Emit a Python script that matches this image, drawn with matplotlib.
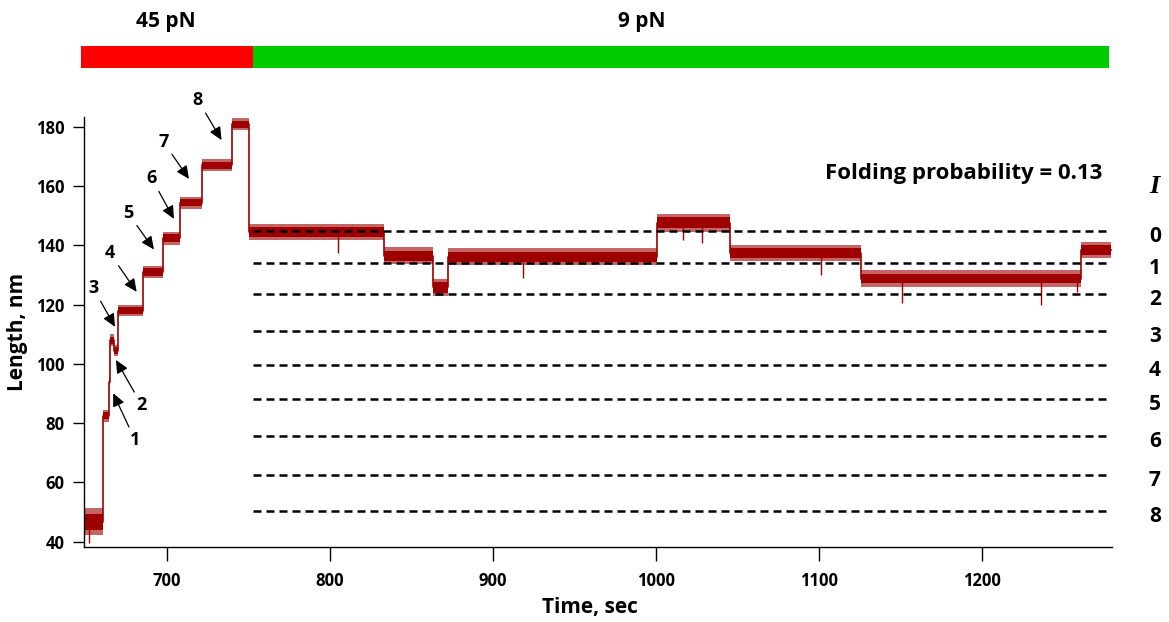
import numpy as np
import matplotlib
matplotlib.use('Agg')
import matplotlib.pyplot as plt

plt.rcParams['font.family'] = ['Open Sans', 'DejaVu Sans']
plt.rcParams['font.weight'] = 'bold'
plt.rcParams['axes.labelweight'] = 'bold'

# Step levels of the trace (start time of each dwell, level in nm, noise half width)
seg_start = [649.9, 661.1, 664.5, 665.5, 667.5, 670.3, 685.3, 697.9, 708.2, 721.5,
             740.2, 750.7, 833.3, 863.6, 872.8, 1000.6, 1045.4, 1125.8, 1260.7]
seg_end_last = 1279.1
seg_level = [46.7, 82.5, 94.0, 108.0, 104.5, 118.0, 131.0, 142.4, 154.3, 167.0,
             180.8, 144.5, 136.5, 125.8, 136.2, 147.6, 137.4, 128.8, 138.4]
seg_spread = [4.5, 2.0, 1.5, 2.0, 2.0, 2.0, 2.0, 2.2, 2.0, 2.0,
              2.0, 2.8, 2.8, 3.0, 2.8, 3.0, 2.8, 2.8, 2.8]

# Isolated spikes seen on the trace (time, extreme value)
spike_t = [652.5, 805.3, 918.8, 1017.0, 1028.6, 1101.2, 1151.3, 1236.2, 1258.6]
spike_v = [39.5, 137.3, 128.9, 141.8, 140.7, 130.0, 120.6, 119.9, 124.3]

# Intermediate state levels (dashed lines)
state_names = ['0', '1', '2', '3', '4', '5', '6', '7', '8']
state_levels = [144.7, 133.9, 123.6, 111.1, 99.6, 88.0, 75.6, 62.6, 50.5]
dash_start = 753.0
dash_end = 1279.0

# Unfolding step annotations: label position and arrow head
step_names = ['1', '2', '3', '4', '5', '6', '7', '8']
step_text_t = [680.6, 684.7, 655.0, 665.2, 676.4, 690.8, 697.9, 719.2]
step_text_v = [74.3, 86.1, 125.5, 137.3, 150.8, 162.6, 175.0, 189.0]
step_head_t = [667.2, 668.9, 668.3, 681.6, 692.2, 704.5, 713.7, 733.7]
step_head_v = [90.1, 101.3, 112.5, 124.3, 138.6, 148.9, 162.4, 175.5]

# Force protocol bar
force_edges = [647.4, 753.1, 1278.2]
force_labels = ['45 pN', '9 pN']
force_label_t = [699.6, 991.6]
force_colors = ['#ff0000', '#00cc00']

trace_color = '#9e0000'

W, H = 1169, 622
fig = plt.figure(figsize=(W / 100, H / 100), dpi=100)
ax = fig.add_axes([84 / W, 1 - 546.7 / H, (1112 - 84) / W, (546.7 - 116.7) / H])

# build step arrays
seg_end = seg_start[1:] + [seg_end_last]
xs, ys, sp = [], [], []
for s, e, lv, w in zip(seg_start, seg_end, seg_level, seg_spread):
    xs += [s, e]
    ys += [lv, lv]
    sp += [w, w]
xs = np.array(xs)
ys = np.array(ys)
sp = np.array(sp)

ax.fill_between(xs, ys - sp, ys + sp, color=trace_color, alpha=0.6, lw=0)
ax.fill_between(xs, ys - 0.6 * sp, ys + 0.6 * sp, color=trace_color, lw=0)
ax.plot(xs, ys, color=trace_color, lw=1.2)

# spikes drawn from the level of the dwell they sit in
for t, v in zip(spike_t, spike_v):
    i = np.searchsorted(seg_start, t) - 1
    ax.vlines(t, seg_level[i], v, color=trace_color, lw=1)

ax.hlines(state_levels, dash_start, dash_end, colors='black', lw=1.8,
          linestyles=(0, (3.2, 2.0)))

for name, lv in zip(state_names, state_levels):
    ax.annotate(name, xy=(1306.3, lv), xytext=(0, -4), textcoords='offset points',
                ha='center', va='center', fontsize=15, annotation_clip=False)
ax.text(1306.3, 159.7, 'I', fontsize=19, family='Liberation Serif', style='italic',
        weight='bold', ha='center', va='center', clip_on=False)

for name, tx, vx, th, vh in zip(step_names, step_text_t, step_text_v, step_head_t, step_head_v):
    ax.annotate(name, xy=(th, vh), xytext=(tx, vx), fontsize=13, ha='center', va='center',
                arrowprops=dict(arrowstyle='-|>,head_length=0.6,head_width=0.28', color='black',
                                lw=0.9, shrinkA=1, shrinkB=0))

ax.text(1273.9, 164.3, 'Folding probability = 0.13', fontsize=16, ha='right', va='center')

ax.set_xlim(649.3, 1280)
ax.set_ylim(38.3, 183.4)
ax.set_xticks([700, 800, 900, 1000, 1100, 1200])
ax.set_yticks([40, 60, 80, 100, 120, 140, 160, 180])
ax.tick_params(direction='out', length=8, width=1, labelsize=12, pad=6)
ax.tick_params(axis='x', length=10, pad=8)
for lbl in ax.get_xticklabels() + ax.get_yticklabels():
    lbl.set_fontweight('bold')
for side in ['top', 'right']:
    ax.spines[side].set_visible(False)
for side in ['left', 'bottom']:
    ax.spines[side].set_linewidth(1)
ax.set_xlabel('Time, sec', fontsize=15)
ax.set_ylabel('Length, nm', fontsize=15)
ax.xaxis.set_label_coords(0.492, -0.117)
ax.yaxis.set_label_coords(-0.0545, 0.5)

# force bar on top
axb = fig.add_axes([84 / W, 1 - 68.3 / H, (1112 - 84) / W, (68.3 - 46) / H])
axb.set_xlim(ax.get_xlim())
axb.set_ylim(0, 1)
for i in range(len(force_labels)):
    axb.barh(0.5, force_edges[i + 1] - force_edges[i], left=force_edges[i], height=1,
             color=force_colors[i], clip_on=False)
    axb.text(force_label_t[i], 2.1, force_labels[i], fontsize=15, ha='center', va='center')
axb.axis('off')

fig.savefig('out.png', dpi=100)
